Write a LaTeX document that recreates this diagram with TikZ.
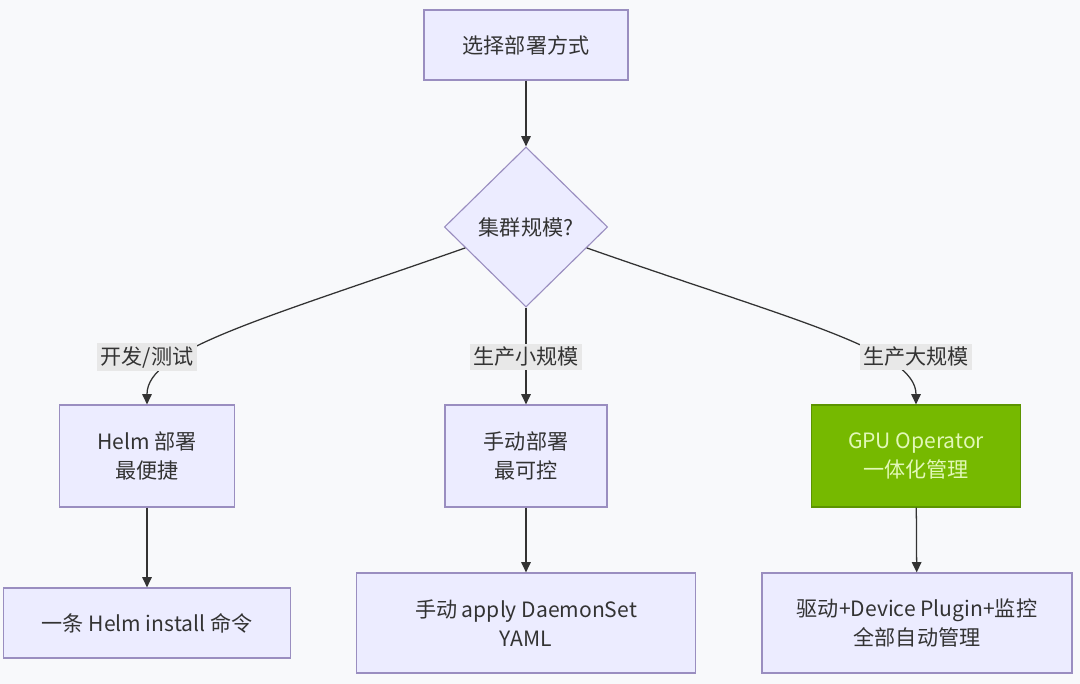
\documentclass[tikz,border=0pt]{standalone}
\usepackage{xcolor}
\usepackage{fontspec}
\setmainfont{Noto Sans CJK SC}
\usepackage{tikz}
\usetikzlibrary{positioning,shapes.geometric,arrows.meta}
\definecolor{boxfill}{HTML}{ECECFF}
\definecolor{boxline}{HTML}{9A8EC0}
\definecolor{ink}{HTML}{333333}
\definecolor{nvgreen}{HTML}{76B900}
\definecolor{nvline}{HTML}{5C9400}
\definecolor{nvtext}{HTML}{E2F8B8}
\definecolor{lblfill}{HTML}{E8E8E8}
\definecolor{paper}{HTML}{F8F9FB}
\tikzset{
  box/.style={draw=boxline, fill=boxfill, align=center, text=ink, line width=0.8pt,
    font=\fontsize{15pt}{21pt}\selectfont, inner sep=4pt, minimum height=2.55cm},
  decision/.style={draw=boxline, diamond, fill=boxfill, align=center, text=ink, line width=0.8pt,
    font=\fontsize{15pt}{21pt}\selectfont, inner sep=0pt, minimum width=4.08cm, minimum height=4cm},
  gpubox/.style={box, draw=nvline, fill=nvgreen, text=nvtext},
  arrow/.style={-{Triangle[length=2.6mm, width=2.4mm]}, line width=0.9pt, draw=ink},
  lbl/.style={fill=lblfill, text=ink, font=\fontsize{15pt}{21pt}\selectfont, inner sep=2.5pt}
}

\begin{document}
\begin{tikzpicture}[x=0.025cm, y=-0.025cm]
  \fill[paper] (0,0) rectangle (1080,684);
  \useasboundingbox (0,0) rectangle (1080,684);

  \node (choose) [box, minimum width=5.1cm, minimum height=1.75cm] at (526,45) {选择部署方式};
  \node (size) [decision] at (526,227) {集群规模?};

  \node (helm) [box, minimum width=4.375cm] at (147,456) {Helm 部署\\最便捷};
  \node (manual) [box, minimum width=4.05cm] at (526,456) {手动部署\\最可控};
  \node (gpu) [gpubox, minimum width=5.225cm] at (916,456) {GPU Operator\\一体化管理};

  \node (helmcmd) [box, minimum width=7.175cm, minimum height=1.75cm] at (147,623) {一条 Helm install 命令};
  \node (yaml) [box, minimum width=8.475cm, minimum height=2.5cm] at (526,623) {手动 apply DaemonSet\\YAML};
  \node (auto) [box, minimum width=7.75cm, minimum height=2.5cm] at (917,623) {驱动+Device Plugin+监控\\全部自动管理};

  \draw[arrow] (choose) -- (size);
  \draw[arrow] (size.199) .. controls (260,320) and (147,350) .. (helm.north);
  \draw[arrow] (size.south) -- (manual.north);
  \draw[arrow] (size.-19) .. controls (792,320) and (916,350) .. (gpu.north);
  \draw[arrow] (helm) -- (helmcmd);
  \draw[arrow] (manual) -- (yaml);
  \draw[arrow] (gpu) -- (auto);

  % 分支标签
  \node (devtest) [lbl] at (147,357) {开发/测试};
  \node (small) [lbl] at (526,357) {生产小规模};
  \node (large) [lbl] at (916,357) {生产大规模};
\end{tikzpicture}
\end{document}
